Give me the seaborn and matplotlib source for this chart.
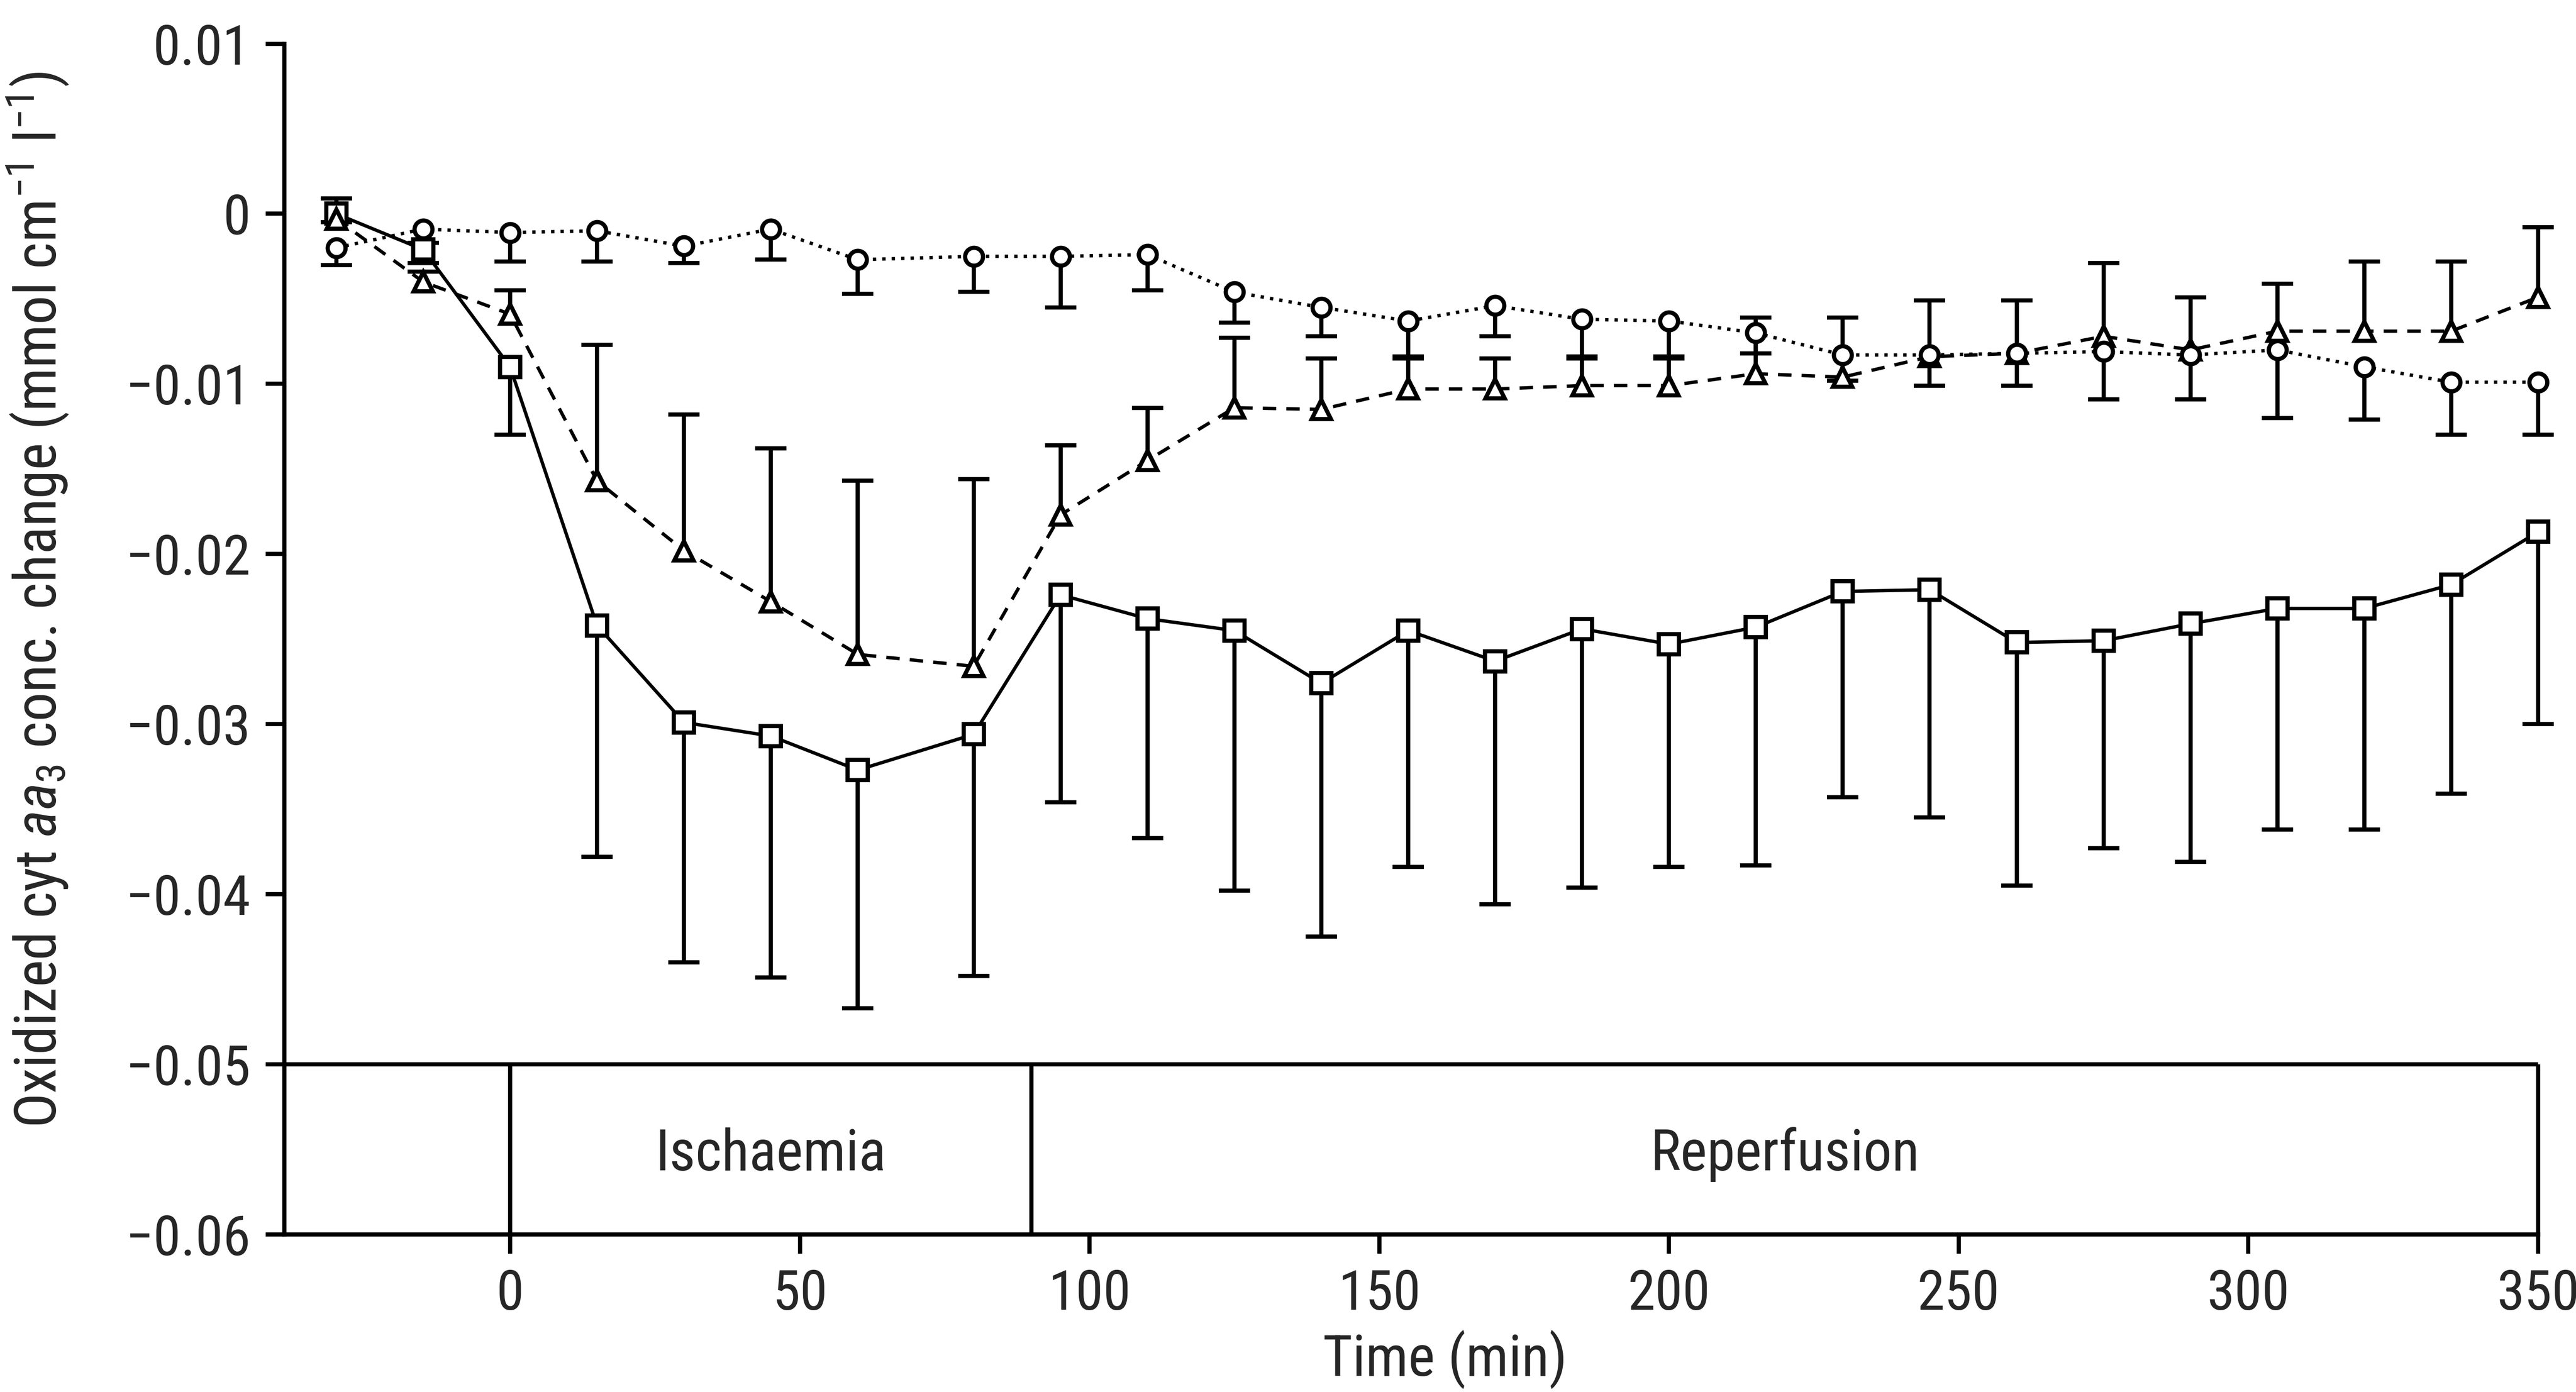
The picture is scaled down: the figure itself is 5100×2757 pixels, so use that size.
import numpy as np
import matplotlib
matplotlib.use('Agg')
import matplotlib.pyplot as plt
from matplotlib import font_manager
import seaborn as sns

# sampling times (min)
time = [-30, -15, 0, 15, 30, 45, 60, 80, 95, 110, 125, 140, 155, 170, 185,
        200, 215, 230, 245, 260, 275, 290, 305, 320, 335, 350]

# squares, solid line (SD drawn downwards)
sq_mean = [0.0000, -0.0021, -0.0090, -0.0242, -0.0299, -0.0307, -0.0327, -0.0306,
           -0.0224, -0.0238, -0.0245, -0.0276, -0.0245, -0.0263, -0.0244, -0.0253,
           -0.0243, -0.0222, -0.0221, -0.0252, -0.0251, -0.0241, -0.0232, -0.0232,
           -0.0218, -0.0187]
sq_err = [0.0005, 0.0008, 0.0040, 0.0136, 0.0141, 0.0142, 0.0140, 0.0142,
          0.0122, 0.0129, 0.0153, 0.0149, 0.0139, 0.0143, 0.0152, 0.0131,
          0.0140, 0.0121, 0.0134, 0.0143, 0.0122, 0.0140, 0.0130, 0.0130,
          0.0123, 0.0113]

# triangles, dashed line (SD drawn upwards)
tri_mean = [-0.0003, -0.0040, -0.0059, -0.0157, -0.0198, -0.0228, -0.0259, -0.0266,
            -0.0177, -0.0145, -0.0114, -0.0115, -0.0103, -0.0103, -0.0101, -0.0101,
            -0.0094, -0.0096, -0.0084, -0.0082, -0.0072, -0.0080, -0.0069, -0.0069,
            -0.0069, -0.0049]
tri_err = [0.0012, 0.0006, 0.0014, 0.0080, 0.0080, 0.0090, 0.0102, 0.0110,
           0.0041, 0.0031, 0.0041, 0.0030, 0.0018, 0.0018, 0.0016, 0.0016,
           0.0033, 0.0035, 0.0033, 0.0031, 0.0043, 0.0031, 0.0028, 0.0041,
           0.0041, 0.0041]

# circles, dotted line (SD drawn downwards)
circ_mean = [-0.0020, -0.0009, -0.0011, -0.0010, -0.0019, -0.0009, -0.0027, -0.0025,
             -0.0025, -0.0024, -0.0046, -0.0055, -0.0063, -0.0054, -0.0062, -0.0063,
             -0.0070, -0.0083, -0.0083, -0.0082, -0.0081, -0.0083, -0.0080, -0.0090,
             -0.0099, -0.0099]
circ_err = [0.0010, 0.0008, 0.0017, 0.0018, 0.0010, 0.0018, 0.0020, 0.0021,
            0.0030, 0.0021, 0.0018, 0.0017, 0.0021, 0.0018, 0.0022, 0.0021,
            0.0012, 0.0015, 0.0018, 0.0019, 0.0028, 0.0026, 0.0040, 0.0031,
            0.0031, 0.0031]

yticks = [0.01, 0, -0.01, -0.02, -0.03, -0.04, -0.05, -0.06]
ytick_labels = ['0.01', '0', '\u22120.01', '\u22120.02', '\u22120.03',
                '\u22120.04', '\u22120.05', '\u22120.06']
xticks = [0, 50, 100, 150, 200, 250, 300, 350]

# protocol bar under the curves
phase_edges = [0, 90, 350]
phase_names = ['Ischaemia', 'Reperfusion']


def pick_narrow_font():
    # the original is set in a narrow sans; use whatever condensed face exists
    ttf = font_manager.fontManager.ttflist
    names = {f.name for f in ttf}
    for n in ['Noto Sans ExtraCondensed', 'Noto Sans Condensed',
              'Liberation Sans Narrow', 'Roboto Condensed', 'DejaVu Sans Condensed']:
        if n in names:
            return n, 'normal', True
    for n in ['Noto Sans', 'DejaVu Sans', 'Roboto', 'Open Sans']:
        for f in ttf:
            if f.name == n and str(f.stretch) in ('condensed', 'extra-condensed', 'semi-condensed'):
                return n, 'condensed', True
    return 'DejaVu Sans', 'normal', False


fam, stretch, narrow = pick_narrow_font()
scale = 1.0 if narrow else 0.78

sns.set_theme(style='ticks')
plt.rcParams['font.family'] = [fam, 'DejaVu Sans']
plt.rcParams['font.stretch'] = stretch
plt.rcParams['mathtext.fontset'] = 'custom'
suffix = '' if stretch == 'normal' else ':' + stretch
plt.rcParams['mathtext.rm'] = fam + suffix
plt.rcParams['mathtext.it'] = fam + ':italic' + suffix

fig = plt.figure(figsize=(17, 9.19), dpi=300)
ax = fig.add_axes([0.1103, 0.1132, 0.875, 0.8554])

lw = 2.0
series = [
    (sq_mean, sq_err, 's', '-', 9.5, 'down'),
    (tri_mean, tri_err, '^', (0, (4, 3)), 9, 'up'),
    (circ_mean, circ_err, 'o', (0, (1, 1.8)), 8.5, 'down'),
]
for mean, err, mk, ls, ms, side in series:
    err = np.array(err)
    zero = np.zeros_like(err)
    yerr = [err, zero] if side == 'down' else [zero, err]
    eb = ax.errorbar(time, mean, yerr=yerr, fmt='none', ecolor='black',
                     elinewidth=lw, capsize=7.5, capthick=lw, zorder=2)
    # hide the cap sitting on the mean itself
    eb[1][1 if side == 'down' else 0].set_visible(False)
    for art in eb.get_children():
        art.set_clip_on(False)
    sns.lineplot(x=time, y=mean, ax=ax, color='black', linestyle=ls,
                 linewidth=1.6, marker=mk, markersize=ms,
                 markerfacecolor='white', markeredgecolor='black',
                 markeredgewidth=2.0, errorbar=None, clip_on=False, zorder=3)

# protocol box
ax.hlines(-0.05, -39, 350, color='black', lw=lw, clip_on=False)
ax.vlines(phase_edges, -0.06, -0.05, color='black', lw=lw, clip_on=False)
for a, b, name in zip(phase_edges[:-1], phase_edges[1:], phase_names):
    ax.text((a + b) / 2, -0.0553, name, ha='center', va='center',
            fontsize=27 * scale)

ax.set_xlim(-39, 350)
ax.set_ylim(-0.06, 0.01)
ax.set_xticks(xticks)
ax.set_xticklabels([str(v) for v in xticks])
ax.set_yticks(yticks)
ax.set_yticklabels(ytick_labels)
ax.tick_params(axis='both', direction='out', length=9, width=lw,
               labelsize=26.5 * scale, color='black')
ax.tick_params(axis='x', pad=7)
ax.tick_params(axis='y', pad=7)

for side in ['top', 'right']:
    ax.spines[side].set_visible(False)
for side in ['left', 'bottom']:
    ax.spines[side].set_linewidth(lw)
    ax.spines[side].set_color('black')

ax.set_xlabel('Time (min)', fontsize=27 * scale)
ax.set_ylabel(r'Oxidized cyt $\mathit{aa}_3$ conc. change (mmol cm$^{-1}$ l$^{-1}$)',
              fontsize=27.5 * scale)
ax.xaxis.set_label_coords(0.515, -0.080)
ax.yaxis.set_label_coords(-0.095, 0.533)

fig.savefig('out.png', dpi=300, facecolor='white')
